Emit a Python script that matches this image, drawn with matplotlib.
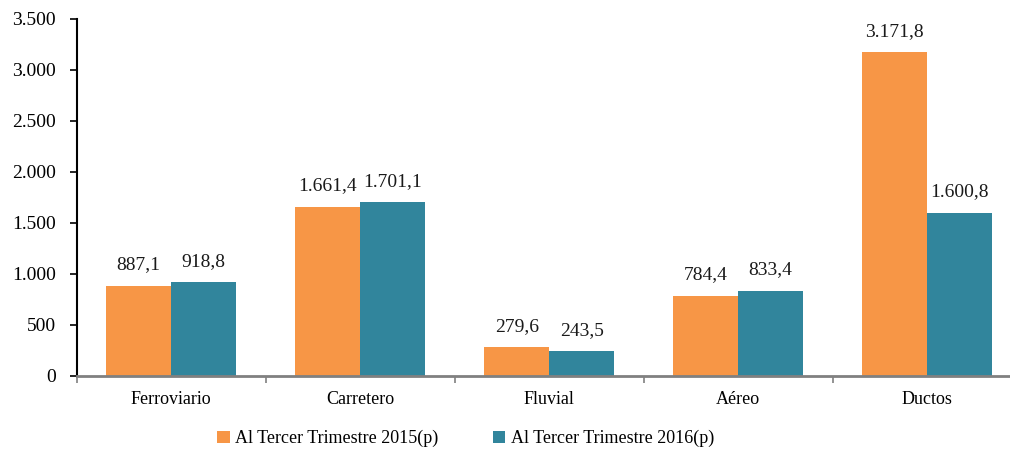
import numpy as np
import matplotlib.pyplot as plt
from matplotlib.ticker import FuncFormatter, FixedLocator

categorias = ['Ferroviario', 'Carretero', 'Fluvial', 'Aéreo', 'Ductos']
valores_2015 = [887.1, 1661.4, 279.6, 784.4, 3171.8]
valores_2016 = [918.8, 1701.1, 243.5, 833.4, 1600.8]
series = ['Al Tercer Trimestre 2015(p)', 'Al Tercer Trimestre 2016(p)']

naranja = '#F79646'
azul = '#31859C'

plt.rcParams['font.family'] = ['Liberation Serif', 'DejaVu Serif']


def miles(v, pos=None):
    return f'{v:,.0f}'.replace(',', '.')


def decimal(v):
    s = f'{v:,.1f}'
    return s.replace(',', 'X').replace('.', ',').replace('X', '.')


fig = plt.figure(figsize=(10.1, 4.51), dpi=100)
# the plot area runs past the right edge of the picture, as in the original
ax = fig.add_axes([0.0759, 0.1663, 0.9356, 0.7916])

x = np.arange(len(categorias))
w = 0.344
b1 = ax.bar(x - w / 2, valores_2015, w, color=naranja, label=series[0])
b2 = ax.bar(x + w / 2, valores_2016, w, color=azul, label=series[1])

for bars, vals in ((b1, valores_2015), (b2, valores_2016)):
    for r, v in zip(bars, vals):
        ax.annotate(decimal(v), (r.get_x() + r.get_width() / 2, v),
                    xytext=(0, 9), textcoords='offset points',
                    ha='center', va='bottom', fontsize=14, color='#1a1a1a')

ax.set_xlim(-0.5, len(categorias) - 0.5)
ax.set_ylim(0, 3500)
ax.set_yticks(np.arange(0, 3501, 500))
ax.yaxis.set_major_formatter(FuncFormatter(miles))
ax.tick_params(axis='y', labelsize=14, length=5, width=1.2, color='black', pad=10)

ax.set_xticks(x)
ax.set_xticklabels(categorias)
ax.xaxis.set_minor_locator(FixedLocator(np.arange(-0.5, len(categorias), 1)))
ax.tick_params(axis='x', which='major', length=0, labelsize=13, pad=11)
ax.tick_params(axis='x', which='minor', length=5, width=1.2, color='#808080')

for s in ('top', 'right'):
    ax.spines[s].set_visible(False)
ax.spines['left'].set_linewidth(1.5)
ax.spines['left'].set_color('black')
ax.spines['bottom'].set_linewidth(2)
ax.spines['bottom'].set_color('#808080')

fig.legend(handles=[b1, b2], loc='center', bbox_to_anchor=(0.461, 0.027),
           ncol=2, frameon=False, fontsize=13, handlelength=0.7, handleheight=0.7,
           handletextpad=0.3, columnspacing=3.0)

fig.savefig('out.png', dpi=100)
